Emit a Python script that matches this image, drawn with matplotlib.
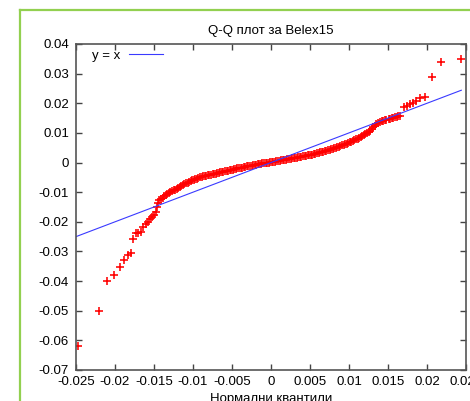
import matplotlib
matplotlib.use("Agg")
import matplotlib.pyplot as plt
from matplotlib.lines import Line2D

plt.rcParams['font.family'] = ['Liberation Sans', 'DejaVu Sans']
plt.rcParams['font.size'] = 9.5

# normal quantiles (x) vs sample quantiles (y)
lower_x = [-0.0247, -0.0221, -0.0210, -0.0201, -0.0194, -0.0188, -0.0183,
           -0.0179, -0.0177, -0.0173, -0.0170, -0.0167, -0.0164, -0.0160,
           -0.0158, -0.0155, -0.0153, -0.0150, -0.0147, -0.0146, -0.0145]
lower_y = [-0.0619, -0.0500, -0.0400, -0.0381, -0.0354, -0.0330, -0.0312,
           -0.0306, -0.0257, -0.0239, -0.0237, -0.0233, -0.0217, -0.0209,
           -0.0202, -0.0191, -0.0183, -0.0177, -0.0166, -0.0149, -0.0138]

# dense central part of the sample
mid_x = [-0.0143, -0.0141, -0.0139, -0.0137, -0.0135, -0.0133, -0.0131,
         -0.0129, -0.0127, -0.0125, -0.0123, -0.0121, -0.0119, -0.0117,
         -0.0115, -0.0113, -0.0111, -0.0109, -0.0107, -0.0105, -0.0103,
         -0.0101, -0.0099, -0.0097, -0.0095, -0.0093, -0.0091, -0.0089,
         -0.0087, -0.0085, -0.0083, -0.0081, -0.0079, -0.0077, -0.0075,
         -0.0073, -0.0071, -0.0069, -0.0067, -0.0065, -0.0063, -0.0061,
         -0.0059, -0.0057, -0.0055, -0.0053, -0.0051, -0.0049, -0.0047,
         -0.0045, -0.0043, -0.0041, -0.0039, -0.0037, -0.0035, -0.0033,
         -0.0031, -0.0029, -0.0027, -0.0025, -0.0023, -0.0021, -0.0019,
         -0.0017, -0.0015, -0.0013, -0.0011, -0.0009, -0.0007, -0.0005,
         -0.0003, -0.0001, 0.0001, 0.0003, 0.0005, 0.0007, 0.0009,
         0.0011, 0.0013, 0.0015, 0.0017, 0.0019, 0.0021, 0.0023,
         0.0025, 0.0027, 0.0029, 0.0031, 0.0033, 0.0035, 0.0037,
         0.0039, 0.0041, 0.0043, 0.0045, 0.0047, 0.0049, 0.0051,
         0.0053, 0.0055, 0.0057, 0.0059, 0.0061, 0.0063, 0.0065,
         0.0067, 0.0069, 0.0071, 0.0073, 0.0075, 0.0077, 0.0079,
         0.0081, 0.0083, 0.0085, 0.0087, 0.0089, 0.0091, 0.0093,
         0.0095, 0.0097, 0.0099, 0.0101, 0.0103, 0.0105, 0.0107,
         0.0109, 0.0111, 0.0113, 0.0115, 0.0117, 0.0119, 0.0121,
         0.0123, 0.0125, 0.0127, 0.0129, 0.0131, 0.0133, 0.0135]
mid_y = [-0.0128, -0.0123, -0.0118, -0.0114, -0.0110, -0.0106, -0.0103,
         -0.0100, -0.0097, -0.0094, -0.0091, -0.0088, -0.0085, -0.0082,
         -0.0079, -0.0076, -0.0073, -0.0070, -0.0068, -0.0065, -0.0063,
         -0.0060, -0.0058, -0.0056, -0.0054, -0.0052, -0.0050, -0.0049,
         -0.0047, -0.0046, -0.0045, -0.0043, -0.0042, -0.0041, -0.0039,
         -0.0038, -0.0037, -0.0036, -0.0034, -0.0033, -0.0032, -0.0031,
         -0.0030, -0.0028, -0.0027, -0.0026, -0.0025, -0.0024, -0.0022,
         -0.0021, -0.0020, -0.0019, -0.0018, -0.0017, -0.0015, -0.0014,
         -0.0013, -0.0012, -0.0011, -0.0010, -0.0009, -0.0008, -0.0007,
         -0.0006, -0.0005, -0.0004, -0.0003, -0.0002, -0.0002, -0.0001,
         0.0000, 0.0001, 0.0002, 0.0003, 0.0003, 0.0004, 0.0005,
         0.0006, 0.0007, 0.0008, 0.0009, 0.0010, 0.0011, 0.0012,
         0.0013, 0.0014, 0.0015, 0.0016, 0.0017, 0.0018, 0.0019,
         0.0020, 0.0021, 0.0022, 0.0023, 0.0024, 0.0025, 0.0026,
         0.0027, 0.0028, 0.0030, 0.0031, 0.0033, 0.0034, 0.0036,
         0.0037, 0.0039, 0.0040, 0.0042, 0.0043, 0.0045, 0.0046,
         0.0048, 0.0050, 0.0052, 0.0054, 0.0056, 0.0058, 0.0060,
         0.0062, 0.0064, 0.0066, 0.0068, 0.0070, 0.0073, 0.0075,
         0.0078, 0.0081, 0.0084, 0.0087, 0.0090, 0.0093, 0.0097,
         0.0100, 0.0104, 0.0108, 0.0113, 0.0119, 0.0124, 0.0129]

upper_x = [0.0137, 0.0140, 0.0142, 0.0144, 0.0146, 0.0148, 0.0151, 0.0153,
           0.0155, 0.0157, 0.0159, 0.0161, 0.0163, 0.0165,
           0.0170, 0.0174, 0.0178, 0.0182, 0.0186, 0.0191, 0.0198, 0.0206,
           0.0218, 0.0244]
upper_y = [0.0133, 0.0138, 0.0140, 0.0141, 0.0143, 0.0144, 0.0146, 0.0147,
           0.0149, 0.0150, 0.0152, 0.0155, 0.0156, 0.0158,
           0.0186, 0.0192, 0.0198, 0.0202, 0.0209, 0.0217, 0.0220, 0.0290,
           0.0338, 0.0348]

qx = lower_x + mid_x + upper_x
qy = lower_y + mid_y + upper_y

line_x = [-0.025, 0.0244]

xticks = [-0.025, -0.02, -0.015, -0.01, -0.005, 0, 0.005, 0.01, 0.015, 0.02, 0.025]
xticklabels = ['-0.025', '-0.02', '-0.015', '-0.01', '-0.005', '0',
               '0.005', '0.01', '0.015', '0.02', '0.025']
yticks = [0.04, 0.03, 0.02, 0.01, 0, -0.01, -0.02, -0.03, -0.04, -0.05, -0.06, -0.07]
yticklabels = ['0.04', '0.03', '0.02', '0.01', '0', '-0.01', '-0.02', '-0.03',
               '-0.04', '-0.05', '-0.06', '-0.07']

fig = plt.figure(figsize=(4.7, 4.01), dpi=100)
ax = fig.add_axes([76 / 470, 31 / 401, 390 / 470, 326 / 401])

ax.plot(qx, qy, linestyle='none', marker='+', color='red',
        markersize=6, markeredgewidth=1.15)
ax.plot(line_x, line_x, color='#3a3aff', linewidth=0.8)

ax.set_xlim(-0.025, 0.025)
ax.set_ylim(-0.07, 0.04)
ax.set_xticks(xticks, labels=xticklabels)
ax.set_yticks(yticks, labels=yticklabels)
ax.tick_params(direction='in', length=4, width=1, color='#444444',
               top=True, right=True, labelsize=9.5, pad=5)
ax.tick_params(axis='x', pad=4)
for s in ax.spines.values():
    s.set_color('#555555')
    s.set_linewidth(1.2)

ax.set_title('Q-Q плот за Belex15', fontsize=9.5, pad=7)
ax.set_xlabel('Нормални квантили', fontsize=9.5, labelpad=4)

handle = Line2D([], [], color='#3a3aff', linewidth=0.8)
ax.legend([handle], ['y = x'], loc='upper left', frameon=False,
          markerfirst=False, handlelength=2.6, handletextpad=0.6,
          borderaxespad=0.2, bbox_to_anchor=(0.022, 1.008))

# green frame of the surrounding page element
fig.add_artist(Line2D([20 / 470, 20 / 470], [0, 1 - 10 / 401],
                      color='#92d050', linewidth=1.6))
fig.add_artist(Line2D([20 / 470, 1], [1 - 10 / 401, 1 - 10 / 401],
                      color='#92d050', linewidth=1.6))

fig.savefig('out.png', dpi=100)
